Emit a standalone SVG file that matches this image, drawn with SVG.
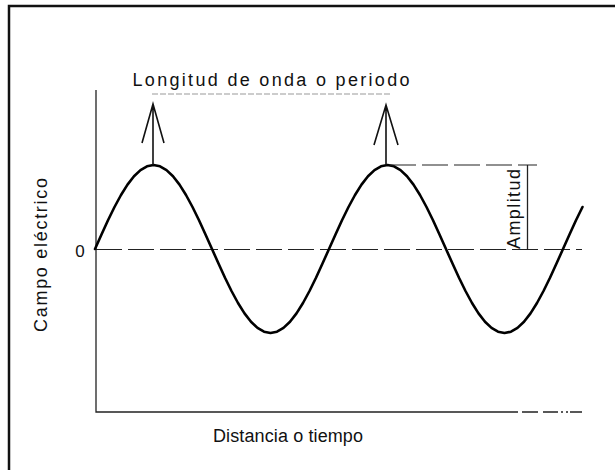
<svg xmlns="http://www.w3.org/2000/svg" width="615" height="470" viewBox="0 0 615 470">
<style>
.t{font-family:"Liberation Sans",Arial,sans-serif;fill:#111;}
.ax{stroke:#222;stroke-width:1.3;fill:none;}
.dash{stroke:#222;stroke-width:1.2;fill:none;stroke-dasharray:26 6;}
.arr{stroke:#111;stroke-width:1.6;fill:none;}
</style>
<rect width="615" height="470" fill="#fff"/>
<rect x="9" y="6" width="700" height="600" fill="none" stroke="#111" stroke-width="2.5"/>
<g id="axes">
<path class="ax" d="M96,90 V412 H518 M522,412 H538 M543,412 H558 M561,412 H563 M566,412 H568 M570,412 H582"/>
<text class="t" x="80" y="257" font-size="17" text-anchor="middle">0</text>
<text class="t" transform="translate(47,255) rotate(-90)" font-size="18" text-anchor="middle" textLength="154" lengthAdjust="spacing">Campo eléctrico</text>
<text class="t" x="288" y="442" font-size="18" text-anchor="middle" textLength="150" lengthAdjust="spacing">Distancia o tiempo</text>
</g>
<g id="zero-line">
<path class="dash" d="M96,249.5 H582"/>
</g>
<g id="wave">
<path fill="none" stroke="#000" stroke-width="2.6" stroke-linejoin="round" stroke-linecap="round" d="M95,249 L101.5,234.42 108,220.27 114.5,207 121,195 127.5,184.66 134,176.26 140.5,170.07 147,166.28 153.5,165 160,166.28 166.5,170.07 173,176.26 179.5,184.66 186,195 192.5,207 199,220.27 205.5,234.42 212,249 218.5,263.58 225,277.73 231.5,291 238,303 244.5,313.34 251,321.74 257.5,327.93 264,331.72 270.5,333 277,331.72 283.5,327.93 290,321.74 296.5,313.34 303,303 309.5,291 316,277.73 322.5,263.58 329,249 335.5,234.42 342,220.27 348.5,207 355,195 361.5,184.66 368,176.26 374.5,170.07 381,166.28 387.5,165 394,166.28 400.5,170.07 407,176.26 413.5,184.66 420,195 426.5,207 433,220.27 439.5,234.42 446,249 452.5,263.58 459,277.73 465.5,291 472,303 478.5,313.34 485,321.74 491.5,327.93 498,331.72 504.5,333 511,331.72 517.5,327.93 524,321.74 530.5,313.34 537,303 543.5,291 550,277.73 556.5,263.58 563,249 569.5,234.42 576,220.27 582.5,207"/>
</g>
<g id="wavelength">
<text class="t" x="271" y="86" font-size="18" text-anchor="middle" textLength="277" lengthAdjust="spacing">Longitud de onda o periodo</text>
<path d="M152,94 H392" stroke="#999" stroke-width="1" stroke-dasharray="6 2"/>
<path class="arr" d="M153,165 V104 M142,143 L153,104 L164,143"/>
<path class="arr" d="M386,165 V105 M374,145 L386,105 L398,145"/>
</g>
<g id="amplitude">
<path class="dash" d="M390,165 H537"/>
<path class="ax" d="M527.5,165 V250"/>
<text class="t" transform="translate(520,209) rotate(-90)" font-size="18" text-anchor="middle" textLength="80" lengthAdjust="spacing">Amplitud</text>
</g>
</svg>
